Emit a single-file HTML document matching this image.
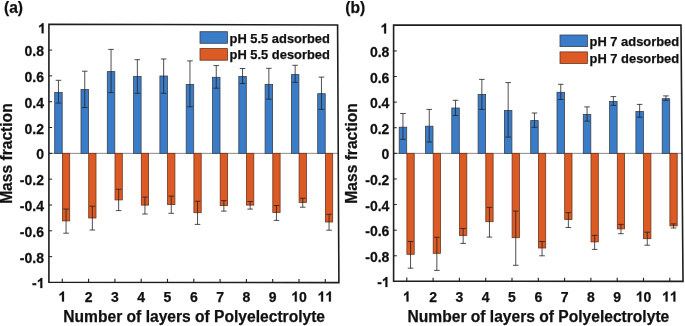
<!DOCTYPE html>
<html><head><meta charset="utf-8"><style>
html,body{margin:0;padding:0;background:#fff;}
body{width:685px;height:326px;overflow:hidden;}
svg{display:block;will-change:transform;filter:blur(0.35px);}
text{fill:#111;stroke:#111;stroke-width:0.25px;}
</style></head><body>
<svg width="685" height="326" viewBox="0 0 685 326">
<rect width="685" height="326" fill="#fff"/>
<line x1="48.9" y1="153.35" x2="338.25" y2="153.35" stroke="#8a8a8a" stroke-width="1"/>
<rect x="54.70" y="92.50" width="7.5" height="60.85" fill="#3B7CC8" stroke="#38404a" stroke-width="0.8"/>
<rect x="62.40" y="153.35" width="7.3" height="67.55" fill="#DC5A23" stroke="#6b3520" stroke-width="0.8"/>
<rect x="81.00" y="89.50" width="7.5" height="63.85" fill="#3B7CC8" stroke="#38404a" stroke-width="0.8"/>
<rect x="88.70" y="153.35" width="7.3" height="64.65" fill="#DC5A23" stroke="#6b3520" stroke-width="0.8"/>
<rect x="107.30" y="71.60" width="7.5" height="81.75" fill="#3B7CC8" stroke="#38404a" stroke-width="0.8"/>
<rect x="115.00" y="153.35" width="7.3" height="46.55" fill="#DC5A23" stroke="#6b3520" stroke-width="0.8"/>
<rect x="133.60" y="76.50" width="7.5" height="76.85" fill="#3B7CC8" stroke="#38404a" stroke-width="0.8"/>
<rect x="141.30" y="153.35" width="7.3" height="51.75" fill="#DC5A23" stroke="#6b3520" stroke-width="0.8"/>
<rect x="159.90" y="76.00" width="7.5" height="77.35" fill="#3B7CC8" stroke="#38404a" stroke-width="0.8"/>
<rect x="167.60" y="153.35" width="7.3" height="51.25" fill="#DC5A23" stroke="#6b3520" stroke-width="0.8"/>
<rect x="186.20" y="84.40" width="7.5" height="68.95" fill="#3B7CC8" stroke="#38404a" stroke-width="0.8"/>
<rect x="193.90" y="153.35" width="7.3" height="59.35" fill="#DC5A23" stroke="#6b3520" stroke-width="0.8"/>
<rect x="212.50" y="77.30" width="7.5" height="76.05" fill="#3B7CC8" stroke="#38404a" stroke-width="0.8"/>
<rect x="220.20" y="153.35" width="7.3" height="52.25" fill="#DC5A23" stroke="#6b3520" stroke-width="0.8"/>
<rect x="238.80" y="76.50" width="7.5" height="76.85" fill="#3B7CC8" stroke="#38404a" stroke-width="0.8"/>
<rect x="246.50" y="153.35" width="7.3" height="51.75" fill="#DC5A23" stroke="#6b3520" stroke-width="0.8"/>
<rect x="265.10" y="84.40" width="7.5" height="68.95" fill="#3B7CC8" stroke="#38404a" stroke-width="0.8"/>
<rect x="272.80" y="153.35" width="7.3" height="59.05" fill="#DC5A23" stroke="#6b3520" stroke-width="0.8"/>
<rect x="291.40" y="74.60" width="7.5" height="78.75" fill="#3B7CC8" stroke="#38404a" stroke-width="0.8"/>
<rect x="299.10" y="153.35" width="7.3" height="49.05" fill="#DC5A23" stroke="#6b3520" stroke-width="0.8"/>
<rect x="317.70" y="93.70" width="7.5" height="59.65" fill="#3B7CC8" stroke="#38404a" stroke-width="0.8"/>
<rect x="325.40" y="153.35" width="7.3" height="68.65" fill="#DC5A23" stroke="#6b3520" stroke-width="0.8"/>
<path d="M58.45 80.30V103.10M55.65 80.30h5.6M55.65 103.10h5.6" stroke="#222" stroke-width="0.8" fill="none"/>
<path d="M66.05 209.10V233.20M63.25 209.10h5.6M63.25 233.20h5.6" stroke="#222" stroke-width="0.8" fill="none"/>
<path d="M84.75 71.20V107.50M81.95 71.20h5.6M81.95 107.50h5.6" stroke="#222" stroke-width="0.8" fill="none"/>
<path d="M92.35 206.20V230.00M89.55 206.20h5.6M89.55 230.00h5.6" stroke="#222" stroke-width="0.8" fill="none"/>
<path d="M111.05 49.40V92.60M108.25 49.40h5.6M108.25 92.60h5.6" stroke="#222" stroke-width="0.8" fill="none"/>
<path d="M118.65 189.30V210.60M115.85 189.30h5.6M115.85 210.60h5.6" stroke="#222" stroke-width="0.8" fill="none"/>
<path d="M137.35 59.70V93.30M134.55 59.70h5.6M134.55 93.30h5.6" stroke="#222" stroke-width="0.8" fill="none"/>
<path d="M144.95 197.10V214.00M142.15 197.10h5.6M142.15 214.00h5.6" stroke="#222" stroke-width="0.8" fill="none"/>
<path d="M163.65 59.00V93.30M160.85 59.00h5.6M160.85 93.30h5.6" stroke="#222" stroke-width="0.8" fill="none"/>
<path d="M171.25 196.10V213.30M168.45 196.10h5.6M168.45 213.30h5.6" stroke="#222" stroke-width="0.8" fill="none"/>
<path d="M189.95 60.90V106.80M187.15 60.90h5.6M187.15 106.80h5.6" stroke="#222" stroke-width="0.8" fill="none"/>
<path d="M197.55 201.30V224.40M194.75 201.30h5.6M194.75 224.40h5.6" stroke="#222" stroke-width="0.8" fill="none"/>
<path d="M216.25 65.60V88.20M213.45 65.60h5.6M213.45 88.20h5.6" stroke="#222" stroke-width="0.8" fill="none"/>
<path d="M223.85 200.60V211.10M221.05 200.60h5.6M221.05 211.10h5.6" stroke="#222" stroke-width="0.8" fill="none"/>
<path d="M242.55 68.50V83.50M239.75 68.50h5.6M239.75 83.50h5.6" stroke="#222" stroke-width="0.8" fill="none"/>
<path d="M250.15 201.50V209.10M247.35 201.50h5.6M247.35 209.10h5.6" stroke="#222" stroke-width="0.8" fill="none"/>
<path d="M268.85 68.30V99.20M266.05 68.30h5.6M266.05 99.20h5.6" stroke="#222" stroke-width="0.8" fill="none"/>
<path d="M276.45 205.50V220.40M273.65 205.50h5.6M273.65 220.40h5.6" stroke="#222" stroke-width="0.8" fill="none"/>
<path d="M295.15 65.30V82.30M292.35 65.30h5.6M292.35 82.30h5.6" stroke="#222" stroke-width="0.8" fill="none"/>
<path d="M302.75 198.30V207.20M299.95 198.30h5.6M299.95 207.20h5.6" stroke="#222" stroke-width="0.8" fill="none"/>
<path d="M321.45 77.10V109.40M318.65 77.10h5.6M318.65 109.40h5.6" stroke="#222" stroke-width="0.8" fill="none"/>
<path d="M329.05 214.30V230.20M326.25 214.30h5.6M326.25 230.20h5.6" stroke="#222" stroke-width="0.8" fill="none"/>
<line x1="48.9" y1="50.07" x2="52.10" y2="50.07" stroke="#1e1e1e" stroke-width="1"/>
<line x1="48.9" y1="75.89" x2="52.10" y2="75.89" stroke="#1e1e1e" stroke-width="1"/>
<line x1="48.9" y1="101.71" x2="52.10" y2="101.71" stroke="#1e1e1e" stroke-width="1"/>
<line x1="48.9" y1="127.53" x2="52.10" y2="127.53" stroke="#1e1e1e" stroke-width="1"/>
<line x1="48.9" y1="153.35" x2="52.10" y2="153.35" stroke="#1e1e1e" stroke-width="1"/>
<line x1="48.9" y1="179.17" x2="52.10" y2="179.17" stroke="#1e1e1e" stroke-width="1"/>
<line x1="48.9" y1="204.99" x2="52.10" y2="204.99" stroke="#1e1e1e" stroke-width="1"/>
<line x1="48.9" y1="230.81" x2="52.10" y2="230.81" stroke="#1e1e1e" stroke-width="1"/>
<line x1="48.9" y1="256.63" x2="52.10" y2="256.63" stroke="#1e1e1e" stroke-width="1"/>
<line x1="62.30" y1="282.31" x2="62.30" y2="278.71" stroke="#1e1e1e" stroke-width="1.1"/>
<line x1="88.60" y1="282.34" x2="88.60" y2="278.74" stroke="#1e1e1e" stroke-width="1.1"/>
<line x1="114.90" y1="282.37" x2="114.90" y2="278.77" stroke="#1e1e1e" stroke-width="1.1"/>
<line x1="141.20" y1="282.40" x2="141.20" y2="278.80" stroke="#1e1e1e" stroke-width="1.1"/>
<line x1="167.50" y1="282.42" x2="167.50" y2="278.82" stroke="#1e1e1e" stroke-width="1.1"/>
<line x1="193.80" y1="282.45" x2="193.80" y2="278.85" stroke="#1e1e1e" stroke-width="1.1"/>
<line x1="220.10" y1="282.48" x2="220.10" y2="278.88" stroke="#1e1e1e" stroke-width="1.1"/>
<line x1="246.40" y1="282.50" x2="246.40" y2="278.90" stroke="#1e1e1e" stroke-width="1.1"/>
<line x1="272.70" y1="282.53" x2="272.70" y2="278.93" stroke="#1e1e1e" stroke-width="1.1"/>
<line x1="299.00" y1="282.56" x2="299.00" y2="278.96" stroke="#1e1e1e" stroke-width="1.1"/>
<line x1="325.30" y1="282.59" x2="325.30" y2="278.99" stroke="#1e1e1e" stroke-width="1.1"/>
<path d="M48.9 24.2L337.6 25.0L338.9 282.6L48.9 282.3Z" fill="none" stroke="#1e1e1e" stroke-width="1.6" stroke-linejoin="miter"/>
<g transform="translate(0 33.25) scale(1 1.0) translate(0 -33.25)"><path transform="translate(38.01 33.25) scale(0.006836 -0.006836)" d="M813 0H532V1059C429 963 308 892 169 846V1101C242 1125 322 1170 408 1237C494 1304 553 1380 585 1466H813Z" fill="#111" stroke="#111" stroke-width="36.6"/></g>
<g transform="translate(0 56.07) scale(1 1.07) translate(0 -56.07)"><text x="24.54" y="56.07" style="font-family:'Liberation Sans',sans-serif;font-weight:bold;font-size:14px">0.8</text></g>
<g transform="translate(0 81.89) scale(1 1.07) translate(0 -81.89)"><text x="24.54" y="81.89" style="font-family:'Liberation Sans',sans-serif;font-weight:bold;font-size:14px">0.6</text></g>
<g transform="translate(0 107.71) scale(1 1.07) translate(0 -107.71)"><text x="24.54" y="107.71" style="font-family:'Liberation Sans',sans-serif;font-weight:bold;font-size:14px">0.4</text></g>
<g transform="translate(0 133.53) scale(1 1.07) translate(0 -133.53)"><text x="24.54" y="133.53" style="font-family:'Liberation Sans',sans-serif;font-weight:bold;font-size:14px">0.2</text></g>
<g transform="translate(0 159.35) scale(1 1.07) translate(0 -159.35)"><text x="36.21" y="159.35" style="font-family:'Liberation Sans',sans-serif;font-weight:bold;font-size:14px">0</text></g>
<g transform="translate(0 185.17) scale(1 1.07) translate(0 -185.17)"><text x="19.88" y="185.17" style="font-family:'Liberation Sans',sans-serif;font-weight:bold;font-size:14px">-0.2</text></g>
<g transform="translate(0 210.99) scale(1 1.07) translate(0 -210.99)"><text x="19.88" y="210.99" style="font-family:'Liberation Sans',sans-serif;font-weight:bold;font-size:14px">-0.4</text></g>
<g transform="translate(0 236.81) scale(1 1.07) translate(0 -236.81)"><text x="19.88" y="236.81" style="font-family:'Liberation Sans',sans-serif;font-weight:bold;font-size:14px">-0.6</text></g>
<g transform="translate(0 262.63) scale(1 1.07) translate(0 -262.63)"><text x="19.88" y="262.63" style="font-family:'Liberation Sans',sans-serif;font-weight:bold;font-size:14px">-0.8</text></g>
<g transform="translate(0 288.05) scale(1 1.0) translate(0 -288.05)"><text x="32.05" y="288.05" style="font-family:'Liberation Sans',sans-serif;font-weight:bold;font-size:14px">-</text>
<path transform="translate(36.71 288.05) scale(0.006836 -0.006836)" d="M813 0H532V1059C429 963 308 892 169 846V1101C242 1125 322 1170 408 1237C494 1304 553 1380 585 1466H813Z" fill="#111" stroke="#111" stroke-width="36.6"/></g>
<path transform="translate(58.41 301.50) scale(0.006836 -0.006836)" d="M813 0H532V1059C429 963 308 892 169 846V1101C242 1125 322 1170 408 1237C494 1304 553 1380 585 1466H813Z" fill="#111" stroke="#111" stroke-width="36.6"/>
<text x="84.71" y="301.50" style="font-family:'Liberation Sans',sans-serif;font-weight:bold;font-size:14px">2</text>
<text x="111.01" y="301.50" style="font-family:'Liberation Sans',sans-serif;font-weight:bold;font-size:14px">3</text>
<text x="137.31" y="301.50" style="font-family:'Liberation Sans',sans-serif;font-weight:bold;font-size:14px">4</text>
<text x="163.61" y="301.50" style="font-family:'Liberation Sans',sans-serif;font-weight:bold;font-size:14px">5</text>
<text x="189.91" y="301.50" style="font-family:'Liberation Sans',sans-serif;font-weight:bold;font-size:14px">6</text>
<text x="216.21" y="301.50" style="font-family:'Liberation Sans',sans-serif;font-weight:bold;font-size:14px">7</text>
<text x="242.51" y="301.50" style="font-family:'Liberation Sans',sans-serif;font-weight:bold;font-size:14px">8</text>
<text x="268.81" y="301.50" style="font-family:'Liberation Sans',sans-serif;font-weight:bold;font-size:14px">9</text>
<path transform="translate(291.21 301.50) scale(0.006836 -0.006836)" d="M813 0H532V1059C429 963 308 892 169 846V1101C242 1125 322 1170 408 1237C494 1304 553 1380 585 1466H813Z" fill="#111" stroke="#111" stroke-width="36.6"/>
<text x="299.00" y="301.50" style="font-family:'Liberation Sans',sans-serif;font-weight:bold;font-size:14px">0</text>
<path transform="translate(317.51 301.50) scale(0.006836 -0.006836)" d="M813 0H532V1059C429 963 308 892 169 846V1101C242 1125 322 1170 408 1237C494 1304 553 1380 585 1466H813Z" fill="#111" stroke="#111" stroke-width="36.6"/>
<path transform="translate(325.30 301.50) scale(0.006836 -0.006836)" d="M813 0H532V1059C429 963 308 892 169 846V1101C242 1125 322 1170 408 1237C494 1304 553 1380 585 1466H813Z" fill="#111" stroke="#111" stroke-width="36.6"/>
<text x="194.2" y="321.6" text-anchor="middle" style="font-family:'Liberation Sans',sans-serif;font-weight:bold;font-size:15.6px">Number of layers of Polyelectrolyte</text>
<text transform="translate(12.3 153.6) rotate(-90)" x="0" y="0" text-anchor="middle" style="font-family:'Liberation Sans',sans-serif;font-weight:bold;font-size:15.6px">Mass fraction</text>
<rect x="200.0" y="31.7" width="27.4" height="11.6" fill="#3B7CC8" stroke="#38404a" stroke-width="0.8"/>
<rect x="200.0" y="48.6" width="27.4" height="11.6" fill="#DC5A23" stroke="#6b3520" stroke-width="0.8"/>
<text x="229.6" y="42.5" style="font-family:'Liberation Sans',sans-serif;font-weight:bold;font-size:12.9px">pH 5.5 adsorbed</text>
<text x="229.6" y="59.400000000000006" style="font-family:'Liberation Sans',sans-serif;font-weight:bold;font-size:12.9px">pH 5.5 desorbed</text>
<text x="4.0" y="12.8" style="font-family:'Liberation Sans',sans-serif;font-weight:bold;font-size:15.6px">(a)</text>
<line x1="393.6" y1="153.35" x2="682.0" y2="153.35" stroke="#8a8a8a" stroke-width="1"/>
<rect x="399.20" y="127.20" width="7.5" height="26.15" fill="#3B7CC8" stroke="#38404a" stroke-width="0.8"/>
<rect x="406.90" y="153.35" width="7.3" height="100.95" fill="#DC5A23" stroke="#6b3520" stroke-width="0.8"/>
<rect x="425.50" y="126.20" width="7.5" height="27.15" fill="#3B7CC8" stroke="#38404a" stroke-width="0.8"/>
<rect x="433.20" y="153.35" width="7.3" height="99.95" fill="#DC5A23" stroke="#6b3520" stroke-width="0.8"/>
<rect x="451.80" y="108.00" width="7.5" height="45.35" fill="#3B7CC8" stroke="#38404a" stroke-width="0.8"/>
<rect x="459.50" y="153.35" width="7.3" height="82.05" fill="#DC5A23" stroke="#6b3520" stroke-width="0.8"/>
<rect x="478.10" y="94.50" width="7.5" height="58.85" fill="#3B7CC8" stroke="#38404a" stroke-width="0.8"/>
<rect x="485.80" y="153.35" width="7.3" height="68.35" fill="#DC5A23" stroke="#6b3520" stroke-width="0.8"/>
<rect x="504.40" y="110.50" width="7.5" height="42.85" fill="#3B7CC8" stroke="#38404a" stroke-width="0.8"/>
<rect x="512.10" y="153.35" width="7.3" height="84.35" fill="#DC5A23" stroke="#6b3520" stroke-width="0.8"/>
<rect x="530.70" y="120.60" width="7.5" height="32.75" fill="#3B7CC8" stroke="#38404a" stroke-width="0.8"/>
<rect x="538.40" y="153.35" width="7.3" height="94.65" fill="#DC5A23" stroke="#6b3520" stroke-width="0.8"/>
<rect x="557.00" y="92.30" width="7.5" height="61.05" fill="#3B7CC8" stroke="#38404a" stroke-width="0.8"/>
<rect x="564.70" y="153.35" width="7.3" height="66.15" fill="#DC5A23" stroke="#6b3520" stroke-width="0.8"/>
<rect x="583.30" y="114.40" width="7.5" height="38.95" fill="#3B7CC8" stroke="#38404a" stroke-width="0.8"/>
<rect x="591.00" y="153.35" width="7.3" height="88.55" fill="#DC5A23" stroke="#6b3520" stroke-width="0.8"/>
<rect x="609.60" y="101.40" width="7.5" height="51.95" fill="#3B7CC8" stroke="#38404a" stroke-width="0.8"/>
<rect x="617.30" y="153.35" width="7.3" height="75.55" fill="#DC5A23" stroke="#6b3520" stroke-width="0.8"/>
<rect x="635.90" y="111.50" width="7.5" height="41.85" fill="#3B7CC8" stroke="#38404a" stroke-width="0.8"/>
<rect x="643.60" y="153.35" width="7.3" height="85.35" fill="#DC5A23" stroke="#6b3520" stroke-width="0.8"/>
<rect x="662.20" y="98.70" width="7.5" height="54.65" fill="#3B7CC8" stroke="#38404a" stroke-width="0.8"/>
<rect x="669.90" y="153.35" width="7.3" height="72.55" fill="#DC5A23" stroke="#6b3520" stroke-width="0.8"/>
<path d="M402.95 113.50V139.30M400.15 113.50h5.6M400.15 139.30h5.6" stroke="#222" stroke-width="0.8" fill="none"/>
<path d="M410.55 241.50V268.20M407.75 241.50h5.6M407.75 268.20h5.6" stroke="#222" stroke-width="0.8" fill="none"/>
<path d="M429.25 109.40V142.00M426.45 109.40h5.6M426.45 142.00h5.6" stroke="#222" stroke-width="0.8" fill="none"/>
<path d="M436.85 237.30V270.40M434.05 237.30h5.6M434.05 270.40h5.6" stroke="#222" stroke-width="0.8" fill="none"/>
<path d="M455.55 100.30V115.50M452.75 100.30h5.6M452.75 115.50h5.6" stroke="#222" stroke-width="0.8" fill="none"/>
<path d="M463.15 228.50V243.40M460.35 228.50h5.6M460.35 243.40h5.6" stroke="#222" stroke-width="0.8" fill="none"/>
<path d="M481.85 79.40V109.40M479.05 79.40h5.6M479.05 109.40h5.6" stroke="#222" stroke-width="0.8" fill="none"/>
<path d="M489.45 207.40V237.10M486.65 207.40h5.6M486.65 237.10h5.6" stroke="#222" stroke-width="0.8" fill="none"/>
<path d="M508.15 82.60V137.10M505.35 82.60h5.6M505.35 137.10h5.6" stroke="#222" stroke-width="0.8" fill="none"/>
<path d="M515.75 211.10V265.30M512.95 211.10h5.6M512.95 265.30h5.6" stroke="#222" stroke-width="0.8" fill="none"/>
<path d="M534.45 113.00V127.30M531.65 113.00h5.6M531.65 127.30h5.6" stroke="#222" stroke-width="0.8" fill="none"/>
<path d="M542.05 241.50V255.80M539.25 241.50h5.6M539.25 255.80h5.6" stroke="#222" stroke-width="0.8" fill="none"/>
<path d="M560.75 84.30V99.50M557.95 84.30h5.6M557.95 99.50h5.6" stroke="#222" stroke-width="0.8" fill="none"/>
<path d="M568.35 212.60V227.50M565.55 212.60h5.6M565.55 227.50h5.6" stroke="#222" stroke-width="0.8" fill="none"/>
<path d="M587.05 106.90V121.10M584.25 106.90h5.6M584.25 121.10h5.6" stroke="#222" stroke-width="0.8" fill="none"/>
<path d="M594.65 235.40V249.40M591.85 235.40h5.6M591.85 249.40h5.6" stroke="#222" stroke-width="0.8" fill="none"/>
<path d="M613.35 96.60V105.40M610.55 96.60h5.6M610.55 105.40h5.6" stroke="#222" stroke-width="0.8" fill="none"/>
<path d="M620.95 224.40V233.70M618.15 224.40h5.6M618.15 233.70h5.6" stroke="#222" stroke-width="0.8" fill="none"/>
<path d="M639.65 104.40V117.20M636.85 104.40h5.6M636.85 117.20h5.6" stroke="#222" stroke-width="0.8" fill="none"/>
<path d="M647.25 232.20V245.20M644.45 232.20h5.6M644.45 245.20h5.6" stroke="#222" stroke-width="0.8" fill="none"/>
<path d="M665.95 95.90V100.30M663.15 95.90h5.6M663.15 100.30h5.6" stroke="#222" stroke-width="0.8" fill="none"/>
<path d="M673.55 223.90V228.00M670.75 223.90h5.6M670.75 228.00h5.6" stroke="#222" stroke-width="0.8" fill="none"/>
<line x1="393.6" y1="50.91" x2="396.80" y2="50.91" stroke="#1e1e1e" stroke-width="1"/>
<line x1="393.6" y1="76.52" x2="396.80" y2="76.52" stroke="#1e1e1e" stroke-width="1"/>
<line x1="393.6" y1="102.13" x2="396.80" y2="102.13" stroke="#1e1e1e" stroke-width="1"/>
<line x1="393.6" y1="127.74" x2="396.80" y2="127.74" stroke="#1e1e1e" stroke-width="1"/>
<line x1="393.6" y1="153.35" x2="396.80" y2="153.35" stroke="#1e1e1e" stroke-width="1"/>
<line x1="393.6" y1="178.96" x2="396.80" y2="178.96" stroke="#1e1e1e" stroke-width="1"/>
<line x1="393.6" y1="204.57" x2="396.80" y2="204.57" stroke="#1e1e1e" stroke-width="1"/>
<line x1="393.6" y1="230.18" x2="396.80" y2="230.18" stroke="#1e1e1e" stroke-width="1"/>
<line x1="393.6" y1="255.79" x2="396.80" y2="255.79" stroke="#1e1e1e" stroke-width="1"/>
<line x1="406.80" y1="281.21" x2="406.80" y2="277.61" stroke="#1e1e1e" stroke-width="1.1"/>
<line x1="433.10" y1="281.23" x2="433.10" y2="277.63" stroke="#1e1e1e" stroke-width="1.1"/>
<line x1="459.40" y1="281.25" x2="459.40" y2="277.65" stroke="#1e1e1e" stroke-width="1.1"/>
<line x1="485.70" y1="281.26" x2="485.70" y2="277.66" stroke="#1e1e1e" stroke-width="1.1"/>
<line x1="512.00" y1="281.28" x2="512.00" y2="277.68" stroke="#1e1e1e" stroke-width="1.1"/>
<line x1="538.30" y1="281.30" x2="538.30" y2="277.70" stroke="#1e1e1e" stroke-width="1.1"/>
<line x1="564.60" y1="281.32" x2="564.60" y2="277.72" stroke="#1e1e1e" stroke-width="1.1"/>
<line x1="590.90" y1="281.34" x2="590.90" y2="277.74" stroke="#1e1e1e" stroke-width="1.1"/>
<line x1="617.20" y1="281.35" x2="617.20" y2="277.75" stroke="#1e1e1e" stroke-width="1.1"/>
<line x1="643.50" y1="281.37" x2="643.50" y2="277.77" stroke="#1e1e1e" stroke-width="1.1"/>
<line x1="669.80" y1="281.39" x2="669.80" y2="277.79" stroke="#1e1e1e" stroke-width="1.1"/>
<path d="M393.6 25.1L681.0 25.1L683.0 281.4L393.6 281.2Z" fill="none" stroke="#1e1e1e" stroke-width="1.6" stroke-linejoin="miter"/>
<g transform="translate(0 33.40) scale(1 1.0) translate(0 -33.40)"><path transform="translate(380.51 33.40) scale(0.006836 -0.006836)" d="M813 0H532V1059C429 963 308 892 169 846V1101C242 1125 322 1170 408 1237C494 1304 553 1380 585 1466H813Z" fill="#111" stroke="#111" stroke-width="36.6"/></g>
<g transform="translate(0 56.91) scale(1 1.07) translate(0 -56.91)"><text x="369.94" y="56.91" style="font-family:'Liberation Sans',sans-serif;font-weight:bold;font-size:14px">0.8</text></g>
<g transform="translate(0 82.52) scale(1 1.07) translate(0 -82.52)"><text x="369.94" y="82.52" style="font-family:'Liberation Sans',sans-serif;font-weight:bold;font-size:14px">0.6</text></g>
<g transform="translate(0 108.13) scale(1 1.07) translate(0 -108.13)"><text x="369.94" y="108.13" style="font-family:'Liberation Sans',sans-serif;font-weight:bold;font-size:14px">0.4</text></g>
<g transform="translate(0 133.74) scale(1 1.07) translate(0 -133.74)"><text x="369.94" y="133.74" style="font-family:'Liberation Sans',sans-serif;font-weight:bold;font-size:14px">0.2</text></g>
<g transform="translate(0 159.35) scale(1 1.07) translate(0 -159.35)"><text x="381.61" y="159.35" style="font-family:'Liberation Sans',sans-serif;font-weight:bold;font-size:14px">0</text></g>
<g transform="translate(0 184.96) scale(1 1.07) translate(0 -184.96)"><text x="365.28" y="184.96" style="font-family:'Liberation Sans',sans-serif;font-weight:bold;font-size:14px">-0.2</text></g>
<g transform="translate(0 210.57) scale(1 1.07) translate(0 -210.57)"><text x="365.28" y="210.57" style="font-family:'Liberation Sans',sans-serif;font-weight:bold;font-size:14px">-0.4</text></g>
<g transform="translate(0 236.18) scale(1 1.07) translate(0 -236.18)"><text x="365.28" y="236.18" style="font-family:'Liberation Sans',sans-serif;font-weight:bold;font-size:14px">-0.6</text></g>
<g transform="translate(0 261.79) scale(1 1.07) translate(0 -261.79)"><text x="365.28" y="261.79" style="font-family:'Liberation Sans',sans-serif;font-weight:bold;font-size:14px">-0.8</text></g>
<g transform="translate(0 287.00) scale(1 1.0) translate(0 -287.00)"><text x="377.15" y="287.00" style="font-family:'Liberation Sans',sans-serif;font-weight:bold;font-size:14px">-</text>
<path transform="translate(381.81 287.00) scale(0.006836 -0.006836)" d="M813 0H532V1059C429 963 308 892 169 846V1101C242 1125 322 1170 408 1237C494 1304 553 1380 585 1466H813Z" fill="#111" stroke="#111" stroke-width="36.6"/></g>
<path transform="translate(402.91 301.50) scale(0.006836 -0.006836)" d="M813 0H532V1059C429 963 308 892 169 846V1101C242 1125 322 1170 408 1237C494 1304 553 1380 585 1466H813Z" fill="#111" stroke="#111" stroke-width="36.6"/>
<text x="429.21" y="301.50" style="font-family:'Liberation Sans',sans-serif;font-weight:bold;font-size:14px">2</text>
<text x="455.51" y="301.50" style="font-family:'Liberation Sans',sans-serif;font-weight:bold;font-size:14px">3</text>
<text x="481.81" y="301.50" style="font-family:'Liberation Sans',sans-serif;font-weight:bold;font-size:14px">4</text>
<text x="508.11" y="301.50" style="font-family:'Liberation Sans',sans-serif;font-weight:bold;font-size:14px">5</text>
<text x="534.41" y="301.50" style="font-family:'Liberation Sans',sans-serif;font-weight:bold;font-size:14px">6</text>
<text x="560.71" y="301.50" style="font-family:'Liberation Sans',sans-serif;font-weight:bold;font-size:14px">7</text>
<text x="587.01" y="301.50" style="font-family:'Liberation Sans',sans-serif;font-weight:bold;font-size:14px">8</text>
<text x="613.31" y="301.50" style="font-family:'Liberation Sans',sans-serif;font-weight:bold;font-size:14px">9</text>
<path transform="translate(635.71 301.50) scale(0.006836 -0.006836)" d="M813 0H532V1059C429 963 308 892 169 846V1101C242 1125 322 1170 408 1237C494 1304 553 1380 585 1466H813Z" fill="#111" stroke="#111" stroke-width="36.6"/>
<text x="643.50" y="301.50" style="font-family:'Liberation Sans',sans-serif;font-weight:bold;font-size:14px">0</text>
<path transform="translate(662.01 301.50) scale(0.006836 -0.006836)" d="M813 0H532V1059C429 963 308 892 169 846V1101C242 1125 322 1170 408 1237C494 1304 553 1380 585 1466H813Z" fill="#111" stroke="#111" stroke-width="36.6"/>
<path transform="translate(669.80 301.50) scale(0.006836 -0.006836)" d="M813 0H532V1059C429 963 308 892 169 846V1101C242 1125 322 1170 408 1237C494 1304 553 1380 585 1466H813Z" fill="#111" stroke="#111" stroke-width="36.6"/>
<text x="538.4" y="321.6" text-anchor="middle" style="font-family:'Liberation Sans',sans-serif;font-weight:bold;font-size:15.6px">Number of layers of Polyelectrolyte</text>
<text transform="translate(357.4 153.4) rotate(-90)" x="0" y="0" text-anchor="middle" style="font-family:'Liberation Sans',sans-serif;font-weight:bold;font-size:15.6px">Mass fraction</text>
<rect x="560.0" y="35.0" width="27.4" height="11.6" fill="#3B7CC8" stroke="#38404a" stroke-width="0.8"/>
<rect x="560.0" y="51.9" width="27.4" height="11.6" fill="#DC5A23" stroke="#6b3520" stroke-width="0.8"/>
<text x="589.6" y="45.8" style="font-family:'Liberation Sans',sans-serif;font-weight:bold;font-size:12.9px">pH 7 adsorbed</text>
<text x="589.6" y="62.7" style="font-family:'Liberation Sans',sans-serif;font-weight:bold;font-size:12.9px">pH 7 desorbed</text>
<text x="345.3" y="12.8" style="font-family:'Liberation Sans',sans-serif;font-weight:bold;font-size:15.6px">(b)</text>
</svg>
</body></html>
